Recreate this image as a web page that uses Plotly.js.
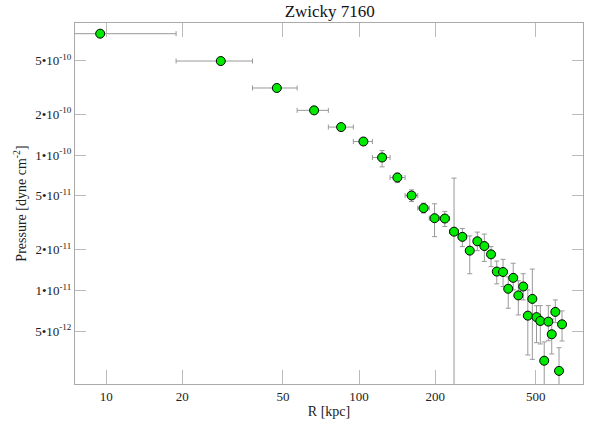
<!DOCTYPE html>
<html>
<head>
<meta charset="utf-8">
<script src="https://cdn.plot.ly/plotly-3.0.1.min.js"></script>
<style>html,body{margin:0;padding:0;background:#fff;}#chart{width:605px;height:432px;}</style>
</head>
<body>
<div id="chart"></div>
<script>
// Radius bin centres [kpc]
const radius = [9.47, 28.4, 47.3, 66.4, 84.9, 104.0, 123.3, 141.7, 161.3, 179.9, 198.8, 218.3, 237.4, 256.1, 273.9, 293.5, 312.8, 332.5, 350.3, 370.9, 388.8, 406.9, 426.2, 445.7, 464.7, 484.2, 503.0, 520.7, 539.5, 560.1, 577.8, 597.0, 617.4, 634.5];
// Radius bin edges [kpc]
const radiusLow  = [0, 18.9, 37.9, 56.9, 75.6, 94.9, 112.9, 132.6, 152.0, 170.6, 189.4, 208.6, 227.9, 246.8, 265.0, 283.7, 303.2, 322.7, 341.4, 360.6, 379.9, 397.9, 416.6, 436.0, 455.2, 474.5, 493.6, 511.9, 530.1, 549.8, 568.9, 587.4, 607.2, 626.0];
const radiusHigh = [18.9, 37.9, 56.9, 75.6, 94.9, 112.9, 132.6, 152.0, 170.6, 189.4, 208.6, 227.9, 246.8, 265.0, 283.7, 303.2, 322.7, 341.4, 360.6, 379.9, 397.9, 416.6, 436.0, 455.2, 474.5, 493.6, 511.9, 530.1, 549.8, 568.9, 587.4, 607.2, 626.0, 643.0];
// Pressure [dyne cm^-2]
const pressure = [7.88e-10, 4.95e-10, 3.13e-10, 2.14e-10, 1.61e-10, 1.26e-10, 9.60e-11, 6.83e-11, 5.03e-11, 4.06e-11, 3.42e-11, 3.40e-11, 2.72e-11, 2.49e-11, 1.97e-11, 2.31e-11, 2.13e-11, 1.85e-11, 1.38e-11, 1.37e-11, 1.03e-11, 1.24e-11, 9.20e-12, 1.07e-11, 6.52e-12, 8.67e-12, 6.36e-12, 5.96e-12, 3.03e-12, 5.89e-12, 4.75e-12, 6.95e-12, 2.55e-12, 5.63e-12];
const pressureHigh = [8.1e-10, 5.1e-10, 3.22e-10, 2.21e-10, 1.67e-10, 1.31e-10, 1.08e-10, 7.37e-11, 5.54e-11, 4.42e-11, 4.37e-11, 3.84e-11, 6.76e-11, 2.87e-11, 2.53e-11, 2.70e-11, 2.61e-11, 2.11e-11, 1.65e-11, 1.70e-11, 1.26e-11, 1.59e-11, 1.18e-11, 1.33e-11, 1.01e-11, 1.44e-11, 7.73e-12, 7.73e-12, 4.17e-12, 7.73e-12, 6.17e-12, 8.52e-12, 3.78e-12, 7.07e-12];
const pressureLow  = [7.66e-10, 4.8e-10, 3.04e-10, 2.07e-10, 1.55e-10, 1.21e-10, 8.19e-11, 6.27e-11, 4.54e-11, 3.73e-11, 2.50e-11, 2.97e-11, 0, 2.11e-11, 1.33e-11, 1.97e-11, 1.64e-11, 1.50e-11, 1.12e-11, 1.07e-11, 7.40e-12, 1.01e-11, 6.60e-12, 8.52e-12, 3.34e-12, 3.10e-12, 4.12e-12, 4.03e-12, 0, 4.26e-12, 3.40e-12, 5.79e-12, 0, 4.24e-12];

const xTickVals = [10, 20, 50, 100, 200, 500];
const xTickText = ['10', '20', '50', '100', '200', '500'];
const yTickVals = [5e-10, 2e-10, 1e-10, 5e-11, 2e-11, 1e-11, 5e-12];
const yTickText = ['5•10<sup>-10</sup>', '2•10<sup>-10</sup>', '1•10<sup>-10</sup>', '5•10<sup>-11</sup>', '2•10<sup>-11</sup>', '1•10<sup>-11</sup>', '5•10<sup>-12</sup>'];

const errXPlus = radius.map((r, i) => radiusHigh[i] - r);
const errXMinus = radius.map((r, i) => r - radiusLow[i]);
const errYPlus = pressure.map((p, i) => pressureHigh[i] - p);
const errYMinus = pressure.map((p, i) => p - pressureLow[i]);

const serif = '"Liberation Serif", "Times New Roman", serif';

const trace = {
  x: radius, y: pressure, type: 'scatter', mode: 'markers',
  marker: {size: 9, color: '#00ea00', line: {color: '#000', width: 1}},
  error_x: {type: 'data', symmetric: false, array: errXPlus, arrayminus: errXMinus, color: '#999', thickness: 1, width: 2.5},
  error_y: {type: 'data', symmetric: false, array: errYPlus, arrayminus: errYMinus, color: '#999', thickness: 1, width: 2.5},
  cliponaxis: true, hoverinfo: 'x+y'
};

const axisCommon = {
  showline: true, linecolor: '#aaa', linewidth: 1, mirror: 'ticks',
  ticks: 'inside', tickcolor: '#bbb', tickwidth: 1,
  showgrid: false, zeroline: false,
  tickfont: {family: serif, size: 13, color: '#222'}
};

const layout = {
  width: 605, height: 432,
  margin: {l: 75, r: 22, t: 23, b: 48},
  paper_bgcolor: '#fff', plot_bgcolor: '#fff',
  showlegend: false,
  title: {text: 'Zwicky 7160', x: 0.545, xanchor: 'center', y: 0.975, yanchor: 'middle', font: {family: serif, size: 17, color: '#111'}},
  xaxis: Object.assign({}, axisCommon, {
    type: 'log', range: [Math.log10(7.53), Math.log10(768)],
    tickmode: 'array', tickvals: xTickVals, ticktext: xTickText, ticklen: 14,
    title: {text: 'R [kpc]', font: {family: serif, size: 14, color: '#222'}, standoff: 3}
  }),
  yaxis: Object.assign({}, axisCommon, {
    type: 'log', range: [Math.log10(2.04e-12), Math.log10(9.45e-10)],
    tickmode: 'array', tickvals: yTickVals, ticktext: yTickText, ticklen: 11,
    title: {text: 'Pressure [dyne cm<sup>-2</sup>]', font: {family: serif, size: 14, color: '#222'}, standoff: 5}
  })
};

Plotly.newPlot('chart', [trace], layout, {displayModeBar: false, staticPlot: true});
</script>
</body>
</html>
